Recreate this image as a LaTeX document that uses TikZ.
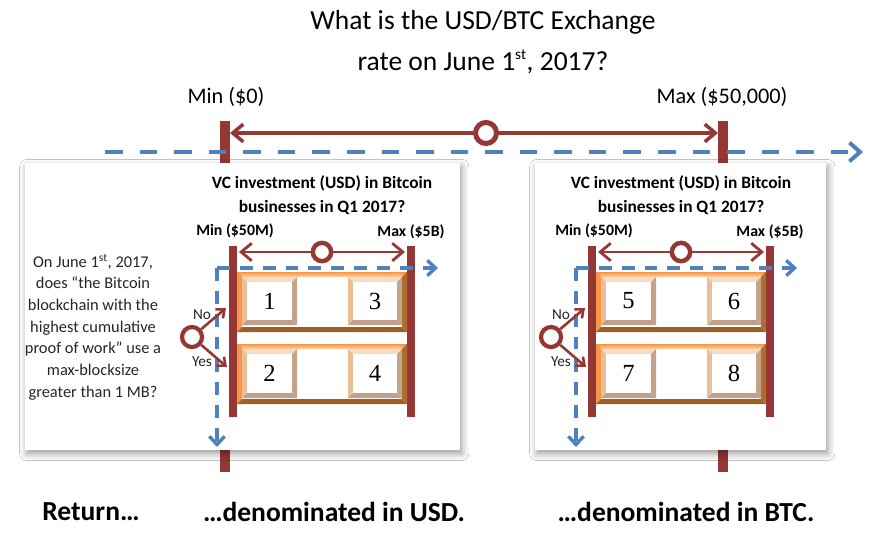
\documentclass[tikz,border=0pt]{standalone}
\usepackage{fontspec}
\setmainfont{Carlito}
\newfontfamily\cellfont{Liberation Serif}
\usetikzlibrary{arrows.meta,shadows.blur}

\definecolor{barred}{HTML}{953735}
\definecolor{axisblue}{HTML}{4F81BD}
\definecolor{shelfhi}{HTML}{FCD3A8}
\definecolor{shelfside}{HTML}{F79646}
\definecolor{shelflo}{HTML}{9C6128}
\definecolor{cellhi}{HTML}{F6DCC2}
\definecolor{cellside}{HTML}{EBBE96}
\definecolor{celllo}{HTML}{BFA08A}

% bevelled frame: (x1,y1)(x2,y2){depth}{top}{left}{bottom}{right}
\def\shelfbevel(#1,#2)(#3,#4)#5#6#7#8#9{%
  \fill[#6] (#1,#2) -- (#3,#2) -- ({#3-#5},{#2+#5}) -- ({#1+#5},{#2+#5}) -- cycle;
  \fill[#7] (#1,#2) -- ({#1+#5},{#2+#5}) -- ({#1+#5},{#4-#5}) -- (#1,#4) -- cycle;
  \fill[#8] (#1,#4) -- ({#1+#5},{#4-#5}) -- ({#3-#5},{#4-#5}) -- (#3,#4) -- cycle;
  \fill[#9] (#3,#2) -- (#3,#4) -- ({#3-#5},{#4-#5}) -- ({#3-#5},{#2+#5}) -- cycle;
  \fill[white] ({#1+#5},{#2+#5}) rectangle ({#3-#5},{#4-#5});}

\tikzset{
  redbar/.style={draw=barred, line width=8.5pt},
  innerbar/.style={draw=barred, line width=6pt},
  ring/.style={circle, draw=barred, fill=white, inner sep=0pt},
  redarrow/.style={draw=barred, line width=3pt, -{Straight Barb[length=9pt,width=15pt]}},
  smallarrow/.style={draw=barred, line width=2.2pt, -{Straight Barb[length=6pt,width=10pt]}},
  axisline/.style={draw=axisblue, line width=3.4pt, dash pattern=on 15pt off 14.5pt, -{Straight Barb[length=9pt,width=16pt]}},
  axisinner/.style={draw=axisblue, line width=2.9pt, dash pattern=on 11pt off 8.5pt, -{Straight Barb[length=7pt,width=13pt]}},
  panel/.style={fill=white, blur shadow={shadow xshift=1.5pt, shadow yshift=-3pt, shadow blur radius=6pt, shadow opacity=40}},
  question/.style={font=\fontsize{23.5}{28}\selectfont},
  rangelbl/.style={font=\fontsize{19}{23}\selectfont},
  paneltitle/.style={font=\bfseries\fontsize{14.8}{18}\selectfont},
  panelrange/.style={font=\bfseries\fontsize{13.5}{16}\selectfont},
  sidetext/.style={font=\fontsize{14}{18.5}\selectfont, align=center, text=black!85},
  choice/.style={font=\fontsize{13}{15}\selectfont, text=black!85},
  digit/.style={font=\cellfont\fontsize{21}{24}\selectfont},
  footer/.style={font=\bfseries\fontsize{23.5}{28}\selectfont},
}

\begin{document}
\begin{tikzpicture}[x=0.03cm, y=-0.03cm]
  \fill[white] (0,0) rectangle (879,552);
  \useasboundingbox (0,0) rectangle (879,552);

  %%%%% exchange rate question %%%%%
  \node[question] (q1) at (483,22) {What is the USD/BTC Exchange};
  \node[question] (q2) at (483,62) {rate on June 1\textsuperscript{\fontsize{13}{13}\selectfont st}, 2017?};
  \node[rangelbl] (minusd) at (226,97) {Min (\$0)};
  \node[rangelbl] (maxusd) at (722,97) {Max (\$50,000)};

  \coordinate (lbtop) at (225,121); \coordinate (lbbot) at (225,472);
  \coordinate (rbtop) at (723,121); \coordinate (rbbot) at (723,472);
  \draw[redbar] (lbtop) -- (lbbot);
  \draw[redbar] (rbtop) -- (rbbot);

  \coordinate (axstart) at (105,152);
  \coordinate (axend) at (863,152);
  \draw[axisline] (axstart) -- (axend);

  \node[ring, line width=4.3pt, minimum size=0.63cm] (rate) at (486,133) {};
  \coordinate (lbtip) at (230,133);
  \coordinate (rbtip) at (718,133);
  \draw[redarrow] (rate) -- (lbtip);
  \draw[redarrow] (rate) -- (rbtip);

  %%%%% the two panels %%%%%
  \fill[panel] (25,163) rectangle (460,450);
  \fill[panel] (535,163) rectangle (826,450);

  \node[sidetext] (blocksize) at (93,327) {On June 1\textsuperscript{st}, 2017,\\ does “the Bitcoin\\ blockchain with the\\ highest cumulative\\ proof of work” use a\\ max-blocksize\\ greater than 1 MB?};

  \foreach \dx/\s/\na/\nb/\nc/\nd in {0/l/1/3/2/4, 359/r/5/6/7/8}{
    \begin{scope}[shift={(\dx,0)}]
      \node[paneltitle] (vc\s) at (322,183) {VC investment (USD) in Bitcoin};
      \node[paneltitle] (biz\s) at (322,207) {businesses in Q1 2017?};
      \node[panelrange] (min\s) at (235,231) {Min (\$50M)};
      \node[panelrange] (max\s) at (411,232) {Max (\$5B)};

      \coordinate (ibl\s) at (233,246); \coordinate (ibl2\s) at (233,417);
      \coordinate (ibr\s) at (411,246); \coordinate (ibr2\s) at (411,417);
      \draw[innerbar] (ibl\s) -- (ibl2\s);
      \draw[innerbar] (ibr\s) -- (ibr2\s);

      \node[ring, line width=3.8pt, minimum size=0.55cm] (vcring\s) at (322,252) {};
      \coordinate (vctipl\s) at (239,252);
      \coordinate (vctipr\s) at (405,252);
      \draw[redarrow, line width=2.4pt] (vcring\s) -- (vctipl\s);
      \draw[redarrow, line width=2.4pt] (vcring\s) -- (vctipr\s);

      % shelves
      \shelfbevel(237,272)(407,332){5}{top color=shelfside, bottom color=shelfhi}{shelfside}{shelflo}{shelflo!80!shelfside}
      \shelfbevel(237,344)(407,404){5}{top color=shelfside, bottom color=shelfhi}{shelfside}{shelflo}{shelflo!80!shelfside}
      \shelfbevel(242,277)(297,325){5}{cellhi}{cellside}{celllo}{celllo!90!cellside}
      \shelfbevel(348,277)(402,325){5}{cellhi}{cellside}{celllo}{celllo!90!cellside}
      \shelfbevel(242,349)(297,398){5}{cellhi}{cellside}{celllo}{celllo!90!cellside}
      \shelfbevel(348,349)(402,398){5}{cellhi}{cellside}{celllo}{celllo!90!cellside}
      \node[digit] (cell\na) at (269.5,301) {\na};
      \node[digit] (cell\nb) at (375,301) {\nb};
      \node[digit] (cell\nc) at (269.5,373.5) {\nc};
      \node[digit] (cell\nd) at (375,373.5) {\nd};

      % value axis of the panel
      \coordinate (corner\s) at (217,268);
      \coordinate (hend\s) at (438,268);
      \coordinate (vend\s) at (217,447);
      \draw[axisinner] (corner\s) -- (hend\s);
      \draw[axisinner] (corner\s) -- (vend\s);

      % blocksize decision
      \node[ring, line width=3.6pt, minimum size=0.6cm] (dec\s) at (192,337) {};
      \coordinate (noend\s) at (226,308);
      \coordinate (yesend\s) at (227,367);
      \draw[smallarrow] (dec\s) -- (noend\s);
      \draw[smallarrow] (dec\s) -- (yesend\s);
      \node[choice] (no\s) at (202,315) {No};
      \node[choice] (yes\s) at (202,362) {Yes};
    \end{scope}
  }

  %%%%% bottom line %%%%%
  \node[footer] (ret) at (91,512) {Return…};
  \node[footer] (inusd) at (334,512) {…denominated in USD.};
  \node[footer] (inbtc) at (686,512) {…denominated in BTC.};
\end{tikzpicture}
\end{document}
